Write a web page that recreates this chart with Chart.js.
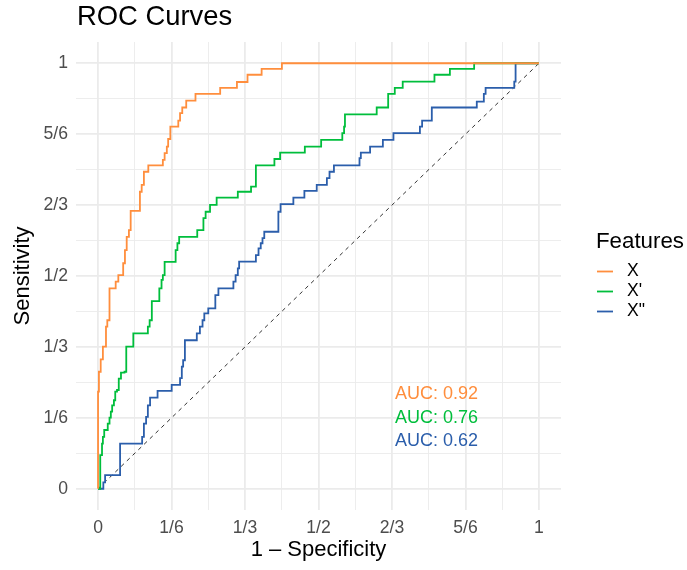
<!DOCTYPE html>
<html>
<head>
<meta charset="utf-8">
<script src="https://cdn.jsdelivr.net/npm/chart.js@4.4.1/dist/chart.umd.min.js"></script>
<style>
  body { margin: 0; background: #fff; }
  canvas { display: block; }
</style>
</head>
<body>
<canvas id="rocChart" width="687" height="570"></canvas>
<script>
// Curva X (naranja): fin de cada tramo horizontal (fpr) y su nivel (tpr)
const fprX = [0, 0.002, 0.006, 0.011, 0.018, 0.021, 0.026, 0.040, 0.046, 0.057, 0.061, 0.065, 0.070, 0.074, 0.095, 0.099, 0.104, 0.114, 0.147, 0.151, 0.156, 0.159, 0.164, 0.182, 0.186, 0.191, 0.200, 0.221, 0.277, 0.315, 0.339, 0.371, 0.417, 1];
const tprX = [0, 0.228, 0.275, 0.304, 0.334, 0.381, 0.396, 0.471, 0.487, 0.502, 0.530, 0.561, 0.592, 0.608, 0.653, 0.698, 0.714, 0.745, 0.760, 0.773, 0.789, 0.804, 0.822, 0.851, 0.865, 0.883, 0.896, 0.912, 0.928, 0.942, 0.956, 0.973, 0.987, 1];

// Curva X' (verde)
const fprX1 = [0, 0.005, 0.009, 0.011, 0.014, 0.022, 0.026, 0.029, 0.032, 0.036, 0.039, 0.043, 0.047, 0.052, 0.060, 0.064, 0.080, 0.113, 0.117, 0.122, 0.139, 0.144, 0.147, 0.151, 0.176, 0.180, 0.184, 0.225, 0.239, 0.244, 0.254, 0.269, 0.317, 0.347, 0.358, 0.400, 0.413, 0.469, 0.506, 0.554, 0.558, 0.560, 0.632, 0.658, 0.673, 0.691, 0.763, 0.798, 0.853, 1];
const tprX1 = [0, 0, 0.079, 0.106, 0.122, 0.138, 0.153, 0.167, 0.181, 0.196, 0.208, 0.228, 0.232, 0.259, 0.273, 0.275, 0.334, 0.365, 0.381, 0.396, 0.441, 0.471, 0.491, 0.502, 0.533, 0.561, 0.577, 0.592, 0.608, 0.636, 0.651, 0.667, 0.684, 0.698, 0.710, 0.760, 0.775, 0.790, 0.804, 0.820, 0.836, 0.851, 0.880, 0.896, 0.928, 0.942, 0.957, 0.973, 0.987, 1];

// Curva X" (azul)
const fprX2 = [0, 0.012, 0.016, 0.050, 0.100, 0.104, 0.109, 0.113, 0.118, 0.135, 0.167, 0.186, 0.190, 0.193, 0.197, 0.224, 0.231, 0.237, 0.241, 0.250, 0.266, 0.273, 0.307, 0.312, 0.317, 0.320, 0.358, 0.364, 0.369, 0.373, 0.377, 0.409, 0.414, 0.443, 0.468, 0.496, 0.519, 0.525, 0.535, 0.593, 0.596, 0.617, 0.646, 0.670, 0.730, 0.735, 0.757, 0.859, 0.875, 0.879, 0.944, 0.947, 1];
const tprX2 = [0, 0, 0.015, 0.032, 0.106, 0.122, 0.153, 0.169, 0.196, 0.214, 0.230, 0.244, 0.260, 0.287, 0.302, 0.349, 0.365, 0.381, 0.396, 0.412, 0.424, 0.455, 0.471, 0.487, 0.502, 0.518, 0.534, 0.549, 0.565, 0.577, 0.589, 0.604, 0.651, 0.669, 0.684, 0.700, 0.714, 0.730, 0.745, 0.760, 0.777, 0.790, 0.804, 0.820, 0.836, 0.851, 0.865, 0.896, 0.910, 0.928, 0.942, 0.957, 1];

const nombres = ['X', "X'", 'X"'];
const colores = ['#FF8E3D', '#00BE3C', '#2B5EAB'];
const aucs = ['AUC: 0.92', 'AUC: 0.76', 'AUC: 0.62'];

// Marcas de los ejes (cada 1/12, etiqueta cada 1/6)
const marcas = [0, 1/12, 2/12, 3/12, 4/12, 5/12, 6/12, 7/12, 8/12, 9/12, 10/12, 11/12, 1];
const etiquetas = ['0', '', '1/6', '', '1/3', '', '1/2', '', '2/3', '', '5/6', '', '1'];

const FUENTE = "'Liberation Sans', Arial, sans-serif";

function puntos(xs, ys) {
    return xs.map((x, i) => ({ x: x, y: ys[i] }));
}

function ejeConfig(titulo, tituloPadding) {
    return {
        type: 'linear',
        min: -0.05,
        max: 1.05,
        afterBuildTicks: scale => { scale.ticks = marcas.map(v => ({ value: v })); },
        ticks: {
            autoSkip: false,
            maxRotation: 0,
            padding: 8,
            color: '#4D4D4D',
            font: { family: FUENTE, size: 17.6 },
            callback: (value, index) => etiquetas[index]
        },
        grid: {
            color: '#EBEBEB',
            lineWidth: ctx => (ctx.index % 2 === 0 ? 1.8 : 0.9),
            drawTicks: false
        },
        border: { display: false },
        title: {
            display: true,
            text: titulo,
            color: '#000',
            font: { family: FUENTE, size: 22 },
            padding: tituloPadding
        }
    };
}

// Dibuja titulo, leyenda y textos de AUC
const decoraciones = {
    id: 'decoraciones',
    afterDraw(chart) {
        const ctx = chart.ctx;
        ctx.save();
        ctx.fillStyle = '#000';
        ctx.textAlign = 'left';
        ctx.textBaseline = 'alphabetic';
        ctx.font = `27.4px ${FUENTE}`;
        ctx.fillText('ROC Curves', 77, 25);

        ctx.font = `22.3px ${FUENTE}`;
        ctx.fillText('Features', 596, 248);

        ctx.font = `17.6px ${FUENTE}`;
        ctx.textBaseline = 'middle';
        nombres.forEach((n, i) => {
            const y = 271.5 + i * 20;
            ctx.strokeStyle = colores[i];
            ctx.lineWidth = 1.8;
            ctx.beginPath();
            ctx.moveTo(597, y);
            ctx.lineTo(613, y);
            ctx.stroke();
            ctx.fillStyle = '#000';
            ctx.fillText(n, 627, y);
        });

        ctx.font = `18px ${FUENTE}`;
        aucs.forEach((t, i) => {
            ctx.fillStyle = colores[i];
            ctx.fillText(t, 395, 394 + i * 23.7);
        });
        ctx.restore();
    }
};

const datasets = [puntos(fprX, tprX), puntos(fprX1, tprX1), puntos(fprX2, tprX2)].map((d, i) => ({
    label: nombres[i],
    data: d,
    borderColor: colores[i],
    borderWidth: 1.8,
    pointRadius: 0,
    stepped: 'after',
    fill: false
}));

datasets.push({
    label: 'diagonal',
    data: [{ x: 0, y: 0 }, { x: 1, y: 1 }],
    borderColor: '#333',
    borderWidth: 1,
    borderDash: [4, 4],
    pointRadius: 0,
    fill: false
});

const xEje = ejeConfig('1 \u2013 Specificity', { top: 2, bottom: 7 });
xEje.afterFit = scale => { scale.height = 60; };
const yEje = ejeConfig('Sensitivity', { top: 10, bottom: 4 });
yEje.afterFit = scale => { scale.width = 76; };

new Chart(document.getElementById('rocChart').getContext('2d'), {
    type: 'scatter',
    data: { datasets: datasets },
    options: {
        responsive: false,
        animation: false,
        showLine: true,
        layout: { padding: { top: 42, right: 126, bottom: 0, left: 0 } },
        plugins: {
            legend: { display: false },
            tooltip: { enabled: false }
        },
        scales: { x: xEje, y: yEje }
    },
    plugins: [decoraciones]
});
</script>
</body>
</html>
